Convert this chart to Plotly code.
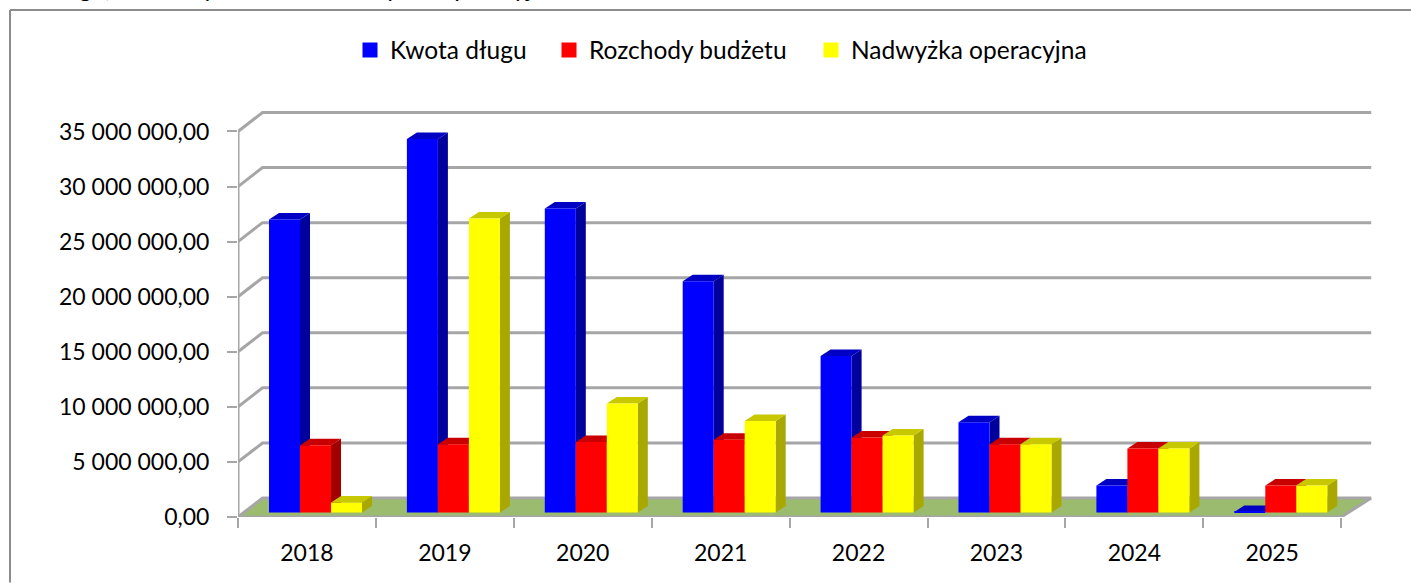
import plotly.graph_objects as go

years = ["2018", "2019", "2020", "2021", "2022", "2023", "2024", "2025"]
kwota_dlugu = [26600000, 33900000, 27600000, 21000000, 14200000, 8200000, 2450000, 50000]
rozchody = [6100000, 6200000, 6400000, 6600000, 6800000, 6200000, 5800000, 2450000]
nadwyzka = [900000, 26700000, 9900000, 8300000, 7000000, 6200000, 5800000, 2450000]
y_ticks = [0, 5000000, 10000000, 15000000, 20000000, 25000000, 30000000, 35000000]
y_labels = ["0,00", "5 000 000,00", "10 000 000,00", "15 000 000,00", "20 000 000,00",
            "25 000 000,00", "30 000 000,00", "35 000 000,00"]
title_text = "długu, rozchody budżetu i nadwyżka operacyjna"

W, H = 1411, 583
X0, CAT = 238.0, 137.9
Y0, PPV = 517.5, 386.0 / 35000000
R_PX, T_PX = 1376.0, 96.0
FONT = "Lato"
FS = 23
GRID = "#a6a6a6"
x_range = [0, (R_PX - X0) / CAT]
y_range = [0, (Y0 - T_PX) / PPV]


def dx(px):
    return px / CAT


def dy(px):
    return px / PPV


def paper_x(px):
    return (px - X0) / (R_PX - X0)


def paper_y(px):
    return (Y0 - px) / (Y0 - T_PX)


WALL_DX, WALL_DY = 24.5, 19.0
fig = go.Figure()

n = len(years)
fig.add_trace(go.Scatter(
    x=[0, dx(WALL_DX), n + dx(WALL_DX + 5.5), n], y=[0, dy(WALL_DY), dy(WALL_DY), 0],
    mode="lines", fill="toself", fillcolor="#9bbb6f", line=dict(width=0),
    showlegend=False, hoverinfo="skip"))

gx, gy = [], []
for t in y_ticks:
    gx += [0, dx(WALL_DX), n + dx(WALL_DX + 5.5), None]
    gy += [t, t + dy(WALL_DY), t + dy(WALL_DY), None]
fig.add_trace(go.Scatter(x=gx, y=gy, mode="lines", line=dict(color=GRID, width=3),
                         showlegend=False, hoverinfo="skip"))
fig.add_trace(go.Scatter(x=[0, 0, None, 0, n, n + dx(WALL_DX + 5.5)],
                         y=[y_ticks[-1], 0, None, 0, 0, dy(WALL_DY)],
                         mode="lines", line=dict(color=GRID, width=3),
                         showlegend=False, hoverinfo="skip"))

series = [
    ("Kwota długu", kwota_dlugu, "#0000ff", "#0000c4", "#00009c", 31, "legend"),
    ("Rozchody budżetu", rozchody, "#ff0000", "#c80000", "#a00000", 62, "legend2"),
    ("Nadwyżka operacyjna", nadwyzka, "#ffff00", "#c8c800", "#a8a800", 93, "legend3"),
]
BAR_W, BAR_DX, BAR_DY, BASE_UP = 31.0, 10.0, 6.5, 4.5

for name, vals, front, top, side, off, leg in series:
    sx, sy, tx, ty = [], [], [], []
    for i, v in enumerate(vals):
        l = i + dx(off)
        r = l + dx(BAR_W)
        b = dy(BASE_UP)
        t = b + v
        sx += [r, r + dx(BAR_DX), r + dx(BAR_DX), r, r, None]
        sy += [b, b + dy(BAR_DY), t + dy(BAR_DY), t, b, None]
        tx += [l, l + dx(BAR_DX), r + dx(BAR_DX), r, l, None]
        ty += [t, t + dy(BAR_DY), t + dy(BAR_DY), t, t, None]
    fig.add_trace(go.Scatter(x=sx, y=sy, mode="lines", fill="toself", fillcolor=side,
                             line=dict(width=0), showlegend=False, hoverinfo="skip"))
    fig.add_trace(go.Scatter(x=tx, y=ty, mode="lines", fill="toself", fillcolor=top,
                             line=dict(width=0), showlegend=False, hoverinfo="skip"))

for name, vals, front, top, side, off, leg in series:
    fig.add_trace(go.Bar(
        x=[i + dx(off + BAR_W / 2) for i in range(n)], y=vals, base=dy(BASE_UP),
        width=dx(BAR_W), marker=dict(color=front, line=dict(width=0)),
        name=name, xaxis="x2", yaxis="y2", showlegend=False))
    fig.add_trace(go.Scatter(x=[None], y=[None], mode="markers", name=name, legend=leg,
                             marker=dict(symbol="square", size=15, color=front)))


def legend_at(px):
    return dict(orientation="h", x=px / W, xref="container", xanchor="left",
                y=1 - 50 / H, yref="container", yanchor="middle",
                font=dict(family=FONT, size=24.5), itemsizing="trace",
                bgcolor="rgba(0,0,0,0)")


fig.update_layout(
    width=W, height=H, autosize=False,
    margin=dict(l=X0, r=W - R_PX, t=T_PX, b=H - Y0, pad=0),
    paper_bgcolor="white", plot_bgcolor="white", barmode="overlay",
    font=dict(family=FONT, size=FS, color="#000000"),
    legend=legend_at(350), legend2=legend_at(549), legend3=legend_at(811),
    xaxis=dict(range=x_range, showgrid=False, zeroline=False, showline=False,
               tickmode="array", tickvals=[i + 0.5 for i in range(n)], ticktext=years,
               ticks="", ticklabelstandoff=20,
               minor=dict(tickmode="array", tickvals=list(range(n + 1)), ticks="outside",
                          ticklen=10, tickwidth=2, tickcolor=GRID, showgrid=False)),
    yaxis=dict(range=y_range, showgrid=False, zeroline=False, showline=False,
               tickmode="array", tickvals=y_ticks, ticktext=y_labels, ticks="outside",
               ticklen=10, tickwidth=2, tickcolor=GRID, ticklabelstandoff=13),
    xaxis2=dict(range=x_range, overlaying="x", visible=False),
    yaxis2=dict(range=y_range, overlaying="y", visible=False),
    annotations=[dict(text=title_text, xref="paper", yref="paper", x=paper_x(42), y=paper_y(4),
                      xanchor="left", yanchor="bottom", showarrow=False,
                      font=dict(family=FONT, size=24.5, color="#000000"))],
    shapes=[
        dict(type="line", xref="paper", yref="paper",
             x0=paper_x(10), x1=paper_x(W), y0=paper_y(10), y1=paper_y(10),
             line=dict(color="#8c8c8c", width=2)),
        dict(type="line", xref="paper", yref="paper",
             x0=paper_x(10), x1=paper_x(10), y0=paper_y(10), y1=paper_y(H),
             line=dict(color="#8c8c8c", width=2)),
    ],
)
fig.write_html("out.html", config={"displayModeBar": False},
               post_script="document.body.style.margin='0';")
